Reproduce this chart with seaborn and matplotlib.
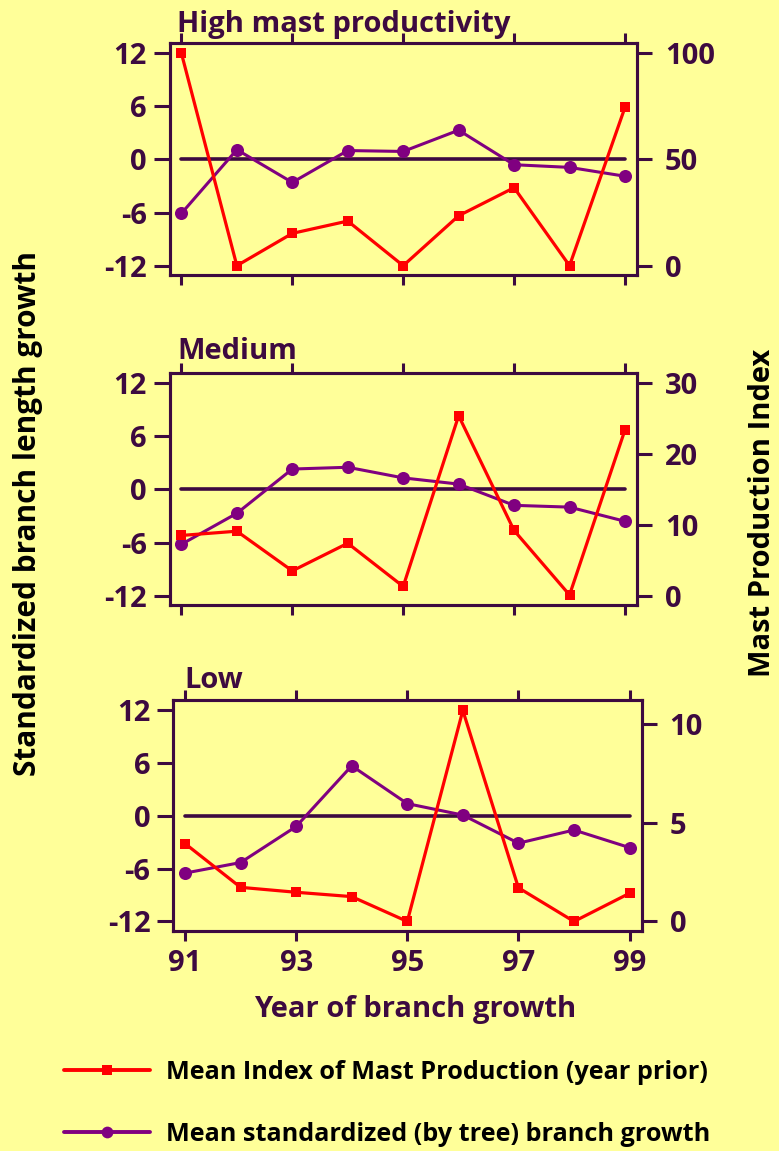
import matplotlib
matplotlib.use("Agg")
import matplotlib.pyplot as plt
import pandas as pd
import seaborn as sns

# ---- data -------------------------------------------------------------
years = [91, 92, 93, 94, 95, 96, 97, 98, 99]

growth_high = [-6.1, 1.1, -2.6, 1.0, 0.9, 3.3, -0.6, -0.9, -1.9]
growth_medium = [-6.2, -2.7, 2.3, 2.5, 1.3, 0.6, -1.8, -2.0, -3.6]
growth_low = [-6.5, -5.3, -1.2, 5.7, 1.4, 0.1, -3.1, -1.6, -3.6]

mast_high = [100, 0, 15.2, 21.0, 0, 23.5, 36.7, 0, 74.5]
mast_medium = [8.5, 9.1, 3.5, 7.4, 1.3, 25.4, 9.2, 0.1, 23.4]
mast_low = [3.95, 1.73, 1.48, 1.26, 0, 10.7, 1.71, 0, 1.43]

panel_titles = ["High mast productivity", "Medium", "Low"]
growth_ticks = [-12, -6, 0, 6, 12]
mast_ticks = [[0, 50, 100], [0, 10, 20, 30], [0, 5, 10]]
mast_top = [100, 30, 10.7]          # index value level with growth = 12
year_ticks = [91, 93, 95, 97, 99]

legend_labels = ["Mean Index of Mast Production (year prior)",
                 "Mean standardized (by tree) branch growth"]

# ---- style ------------------------------------------------------------
BG = "#ffff99"
INK = "#3d0a40"
RED = "#ff0000"
PURPLE = "#800080"

sns.set_theme(style="ticks")
plt.rcParams["font.family"] = ["Open Sans", "DejaVu Sans"]
plt.rcParams["font.weight"] = "bold"

fig = plt.figure(figsize=(7.79, 11.51), dpi=100, facecolor=BG)

positions = [
    [0.2177, 0.7611, 0.6006, 0.2018],
    [0.2177, 0.4744, 0.6006, 0.2018],
    [0.2223, 0.1914, 0.6019, 0.2004],
]
title_xy = [(0.0154, 1.047), (0.0177, 1.058), (0.023, 1.051)]

growth_sets = [growth_high, growth_medium, growth_low]
mast_sets = [mast_high, mast_medium, mast_low]

GLO, GHI = -13.05, 13.18
XLO, XHI = 90.787, 99.225
SPINE_W = 2.2

handles = None
for i in range(3):
    ax = fig.add_axes(positions[i])
    ax.set_facecolor(BG)
    df = pd.DataFrame({"year": years, "growth": growth_sets[i], "mast": mast_sets[i]})

    # reference line at zero growth
    ax.plot([years[0], years[-1]], [0, 0], color=INK, lw=2.6, zorder=1)

    sns.lineplot(data=df, x="year", y="growth", ax=ax, color=PURPLE,
                 marker="o", markersize=9.4, markeredgewidth=0,
                 linewidth=2.2, legend=False, zorder=3)
    growth_line = ax.lines[-1]

    ax2 = ax.twinx()
    sns.lineplot(data=df, x="year", y="mast", ax=ax2, color=RED,
                 marker="s", markersize=7.4, markeredgewidth=0,
                 linewidth=2.3, legend=False, zorder=3)
    mast_line = ax2.lines[-1]

    ax.set_xlim(XLO, XHI)
    ax.set_ylim(GLO, GHI)
    top = mast_top[i]
    ax2.set_ylim((GLO + 12) / 24 * top, (GHI + 12) / 24 * top)

    ax.set_xticks(year_ticks)
    ax.set_yticks(growth_ticks)
    ax2.set_yticks(mast_ticks[i])
    ax.set_yticklabels([str(t) for t in growth_ticks])
    ax.set_xlabel("")
    ax.set_ylabel("")
    ax2.set_ylabel("")

    for a in (ax, ax2):
        for s in a.spines.values():
            s.set_color(INK)
            s.set_linewidth(SPINE_W)
            s.set_visible(True)

    ax.tick_params(axis="x", direction="out", top=True, bottom=True,
                   length=7.2, width=SPINE_W, color=INK,
                   labelbottom=(i == 2), labeltop=False,
                   labelsize=21, labelcolor=INK, pad=6)
    ax.tick_params(axis="y", direction="out", left=True, right=False,
                   length=11.5, width=SPINE_W, color=INK,
                   labelsize=21, labelcolor=INK, pad=5)
    ax2.tick_params(axis="y", direction="out", right=True, left=False,
                    length=10.8, width=SPINE_W, color=INK,
                    labelsize=21, labelcolor=INK, pad=9)
    for lab in ax.get_xticklabels() + ax.get_yticklabels() + ax2.get_yticklabels():
        lab.set_fontweight("bold")

    ax.text(title_xy[i][0], title_xy[i][1], panel_titles[i],
            transform=ax.transAxes, ha="left", va="baseline",
            fontsize=21, fontweight="bold", color=INK)

    handles = [mast_line, growth_line]

# ---- shared labels ----------------------------------------------------
fig.text(415 / 779, 1 - 1010 / 1151, "Year of branch growth",
         ha="center", va="center", fontsize=21, fontweight="bold", color=INK)
fig.text(28 / 779, 1 - 514 / 1151, "Standardized branch length growth",
         rotation=90, ha="center", va="center", fontsize=21.4,
         fontweight="bold", color="black")
fig.text(762 / 779, 1 - 513 / 1151, "Mast Production Index",
         rotation=90, ha="center", va="center", fontsize=21,
         fontweight="bold", color="black")

leg = fig.legend(handles, legend_labels, loc="upper left",
                 bbox_to_anchor=(64 / 779, 1 - 1060 / 1151),
                 frameon=False, fontsize=18.2, handlelength=3.4,
                 handletextpad=0.62, labelspacing=1.45,
                 borderpad=0, borderaxespad=0, markerscale=0.9)
for t in leg.get_texts():
    t.set_fontweight("bold")
    t.set_color("black")
for ln in leg.get_lines():
    ln.set_linewidth(2.8)

fig.savefig("out.png", dpi=100, facecolor=BG)
